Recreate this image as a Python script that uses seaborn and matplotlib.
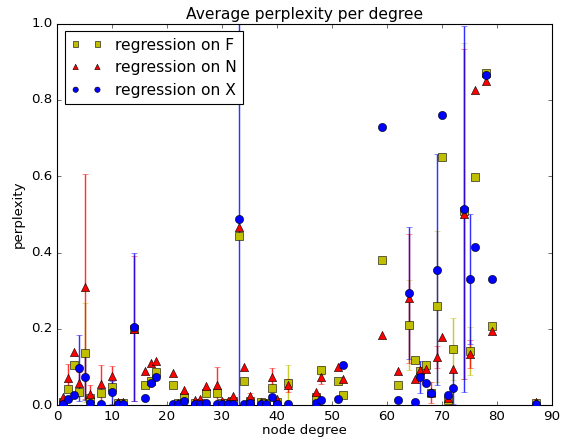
import matplotlib
matplotlib.use("Agg")
import matplotlib.pyplot as plt
import seaborn as sns
import numpy as np
import pandas as pd

plt.style.use("classic")

degrees = [1, 2, 3, 4, 5, 6, 8, 10, 11, 12, 14, 16, 17, 18, 21, 22, 23, 25, 26, 27,
           29, 30, 31, 32, 33, 34, 35, 37, 38, 39, 40, 42, 47, 48, 51, 52, 59, 62, 64, 65,
           66, 67, 68, 69, 70, 71, 72, 74, 75, 76, 78, 79, 87]

perp_F = [0.008, 0.042, 0.105, 0.036, 0.138, 0.020, 0.032, 0.047, 0.005, 0.005, 0.200, 0.052, 0.064, 0.088, 0.052, 0.005, 0.021, 0.006, 0.006, 0.031,
          0.031, 0.005, 0.005, 0.012, 0.443, 0.064, 0.012, 0.008, 0.006, 0.046, 0.008, 0.059, 0.021, 0.092, 0.064, 0.027, 0.381, 0.052, 0.210, 0.119,
          0.090, 0.106, 0.033, 0.259, 0.650, 0.014, 0.147, 0.510, 0.143, 0.598, 0.870, 0.209, 0.005]
err_F = [0, 0, 0, 0, 0.130, 0, 0, 0, 0, 0, 0, 0, 0, 0, 0, 0, 0, 0, 0, 0,
         0, 0, 0, 0, 0, 0, 0, 0, 0, 0, 0, 0.046, 0, 0.012, 0, 0, 0, 0, 0.118, 0,
         0, 0, 0, 0.197, 0, 0, 0.081, 0.440, 0.063, 0, 0, 0, 0]

perp_N = [0.021, 0.072, 0.140, 0.058, 0.311, 0.030, 0.056, 0.077, 0.008, 0.008, 0.200, 0.091, 0.110, 0.116, 0.085, 0.006, 0.040, 0.014, 0.016, 0.051,
          0.053, 0.012, 0.010, 0.025, 0.467, 0.100, 0.024, 0.008, 0.006, 0.075, 0.016, 0.052, 0.035, 0.075, 0.101, 0.069, 0.184, 0.089, 0.280, 0.069,
          0.092, 0.096, 0.034, 0.127, 0.180, 0.020, 0.095, 0.501, 0.134, 0.826, 0.850, 0.195, 0.008]
err_N = [0, 0.035, 0, 0.030, 0.295, 0.022, 0.050, 0.027, 0, 0, 0.190, 0, 0, 0, 0, 0, 0, 0, 0, 0,
         0.048, 0, 0, 0, 0, 0, 0.008, 0, 0, 0.024, 0, 0.017, 0, 0.020, 0, 0, 0, 0, 0.168, 0,
         0, 0, 0.028, 0.028, 0, 0, 0, 0.432, 0.037, 0, 0, 0, 0]

perp_X = [0.003, 0.016, 0.027, 0.098, 0.075, 0.005, 0.003, 0.034, 0.003, 0.003, 0.205, 0.018, 0.058, 0.073, 0.003, 0.003, 0.010, 0.003, 0.003, 0.007,
          0.003, 0.003, 0.003, 0.003, 0.488, 0.003, 0.007, 0.003, 0.003, 0.021, 0.003, 0.003, 0.005, 0.014, 0.016, 0.105, 0.729, 0.014, 0.293, 0.008,
          0.075, 0.058, 0.031, 0.355, 0.760, 0.027, 0.045, 0.515, 0.330, 0.416, 0.865, 0.330, 0.003]
err_X = [0, 0, 0, 0.087, 0.060, 0, 0, 0.030, 0, 0, 0.195, 0, 0, 0, 0, 0, 0, 0, 0, 0,
         0, 0, 0, 0, 0.550, 0, 0, 0, 0, 0, 0, 0, 0, 0, 0, 0, 0, 0, 0.173, 0,
         0.042, 0, 0, 0.303, 0, 0, 0.042, 0.480, 0.170, 0, 0, 0, 0]

series_labels = ["regression on F", "regression on N", "regression on X"]
series_colors = [(0.75, 0.75, 0.0), (1.0, 0.0, 0.0), (0.0, 0.0, 1.0)]
series_markers = ["s", "^", "o"]

fig = plt.figure(figsize=(566 / 80, 440 / 80), dpi=80, facecolor="white")
ax = fig.add_axes([57 / 566, 1 - 405.3 / 440, (552 - 57) / 566, (405.3 - 23.6) / 440])
ax.set_facecolor("white")

values = [perp_F, perp_N, perp_X]
errors = [err_F, err_N, err_X]
for lab, col, mk, vals, errs in zip(series_labels, series_colors, series_markers, values, errors):
    df = pd.DataFrame({"degree": degrees, "perplexity": vals, "err": errs})
    sub = df[df["err"] > 0]
    ax.errorbar(sub["degree"], sub["perplexity"], yerr=sub["err"], fmt="none",
                ecolor=col, elinewidth=1.3, capsize=3, alpha=0.8, zorder=2)
    sns.scatterplot(data=df, x="degree", y="perplexity", ax=ax, color=col, marker=mk,
                    s=55, edgecolor="black", linewidth=0.5, label=lab, zorder=3)

ax.set_xlim(0, 90)
ax.set_ylim(0, 1.0)
ax.set_xticks(np.arange(0, 91, 10))
ax.set_yticks(np.arange(0, 1.01, 0.2))
ax.yaxis.set_major_formatter(matplotlib.ticker.FormatStrFormatter("%.1f"))
ax.set_title("Average perplexity per degree", fontsize=14, pad=4)
ax.set_xlabel("node degree", fontsize=12, labelpad=1)
ax.set_ylabel("perplexity", fontsize=12, labelpad=6)
ax.tick_params(labelsize=12, pad=4)

ax.legend(loc="upper left", scatterpoints=2, scatteryoffsets=[0.5], fontsize=14,
          frameon=True, fancybox=False, markerscale=0.65)

fig.savefig("out.png", dpi=80, facecolor="white")
